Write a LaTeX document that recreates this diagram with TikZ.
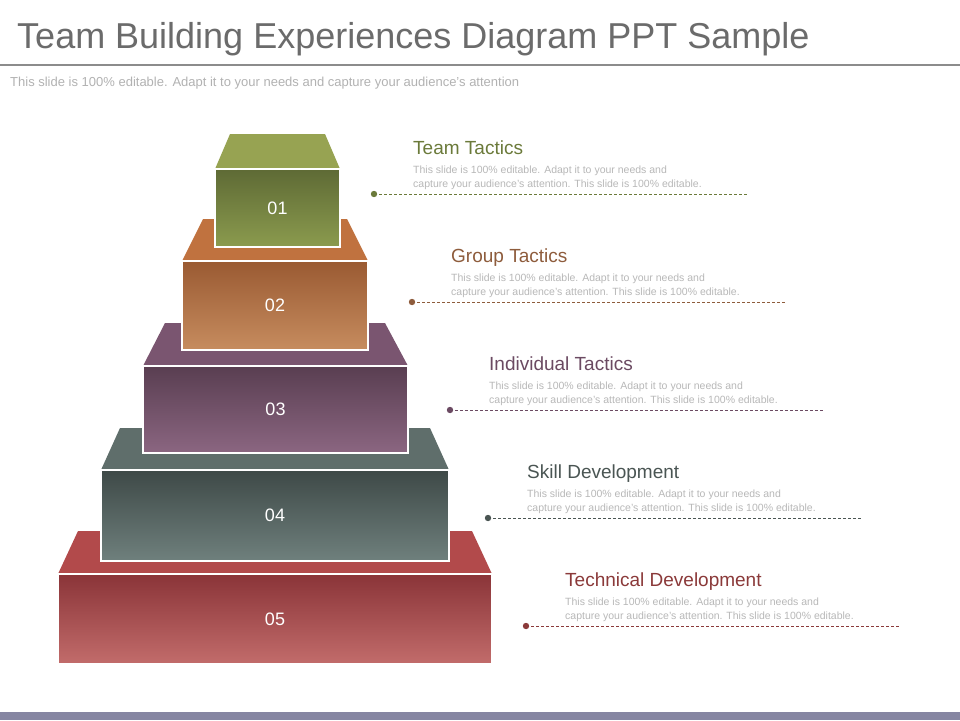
\documentclass[tikz,border=0pt]{standalone}
\usepackage{fontspec}
\setmainfont{Liberation Sans}
\begin{document}
\begin{tikzpicture}[x=1pt,y=-1pt,
  front/.style={draw=white,line width=1.2pt},
  head/.style={anchor=base west,inner sep=0,font=\fontsize{19}{22}\selectfont},
  body/.style={anchor=base west,inner sep=0,text=black!28,font=\fontsize{10.5}{14}\selectfont,align=left},
  num/.style={text=white,font=\fontsize{18}{20}\selectfont},
  lead/.style={densely dashed,line width=0.6pt}]
\useasboundingbox (0,0) rectangle (960,720);
\fill[white] (0,0) rectangle (960,720);
\node[anchor=base west,inner sep=0,text=black!58,font=\fontsize{36}{40}\selectfont] (title) at (17,48) {Team Building Experiences Diagram PPT Sample};
\draw[black!45,line width=1.5pt] (0,65) -- (960,65);
\node[anchor=base west,inner sep=0,text=black!30,font=\fontsize{13}{15}\selectfont] (sub) at (10,86) {This slide is 100\% editable. Adapt it to your needs and capture your audience's attention};
\fill[gray!70!blue!60!black!60] (0,712) rectangle (960,720);
% tiers from bottom to top: topY, topL, topR, frontL, frontR, frontTop, frontBot, colours
\definecolor{t5}{HTML}{B24A4B}\definecolor{f5a}{HTML}{8A3438}\definecolor{f5b}{HTML}{C26C6B}
\definecolor{t4}{HTML}{5F6E6B}\definecolor{f4a}{HTML}{3E4947}\definecolor{f4b}{HTML}{6F807D}
\definecolor{t3}{HTML}{7A5570}\definecolor{f3a}{HTML}{593E51}\definecolor{f3b}{HTML}{8B6681}
\definecolor{t2}{HTML}{C0723F}\definecolor{f2a}{HTML}{9A5A32}\definecolor{f2b}{HTML}{C68C5F}
\definecolor{t1}{HTML}{97A352}\definecolor{f1a}{HTML}{5E6A35}\definecolor{f1b}{HTML}{8B9B4E}
\definecolor{h1}{HTML}{6B7A3A}\definecolor{h2}{HTML}{8E5C3C}\definecolor{h3}{HTML}{6B4A62}
\definecolor{h4}{HTML}{4A5553}\definecolor{h5}{HTML}{8B3A3A}
\foreach \i/\ty/\tl/\tr/\fl/\fr/\ft/\fb in {5/531/78/472/58/492/574/664,4/428/120/430/101/449/470/561,3/323/165/385/143/408/366/453,2/219/203/347/182/368/261/350,1/134/230/325/215/340/169/247}{
  \fill[t\i] (\tl,\ty) -- (\tr,\ty) -- (\fr,\ft) -- (\fl,\ft) -- cycle;
  \shade[top color=f\i a,bottom color=f\i b] (\fl,\ft) rectangle (\fr,\fb);
  \draw[front] (\fl,\ft) rectangle (\fr,\fb);
  \node[num] (n\i) at ({(\fl+\fr)/2},{(\ft+\fb)/2}) {0\i};
}
\foreach \i/\name in {1/Team Tactics,2/Group Tactics,3/Individual Tactics,4/Skill Development,5/Technical Development}{
  \pgfmathsetmacro{\xx}{413+38*(\i-1)}
  \pgfmathsetmacro{\yy}{154+108*(\i-1)}
  \node[head,text=h\i] (hd\i) at (\xx,\yy) {\name};
  \node[body] (bd\i) at (\xx,{\yy+19}) {This slide is 100\% editable. Adapt it to your needs and};
  \node[body] (be\i) at (\xx,{\yy+33}) {capture your audience's attention. This slide is 100\% editable.};
  \coordinate (d\i) at ({\xx-39},{\yy+40});
  \coordinate (e\i) at ({\xx+335},{\yy+40});
  \fill[h\i] (d\i) circle (3.2);
  \draw[lead,h\i] (d\i) -- (e\i);
}
\end{tikzpicture}
\end{document}
